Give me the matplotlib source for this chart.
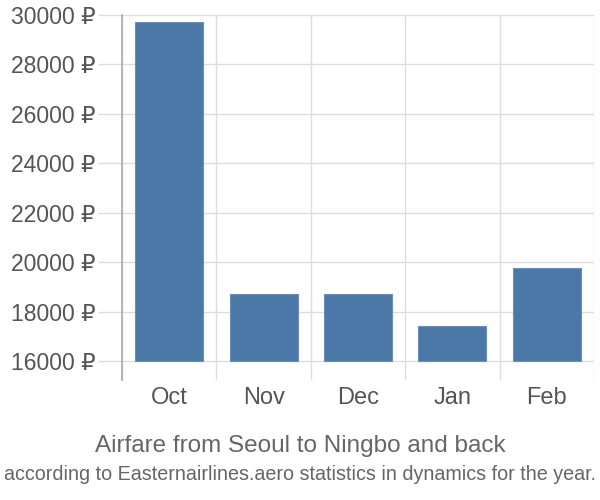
import matplotlib
matplotlib.use('Agg')
import matplotlib.pyplot as plt
import numpy as np

months = ['Oct', 'Nov', 'Dec', 'Jan', 'Feb']
prices = [29700, 18700, 18700, 17400, 19760]
yticks = list(range(16000, 30001, 2000))

plt.rcParams['font.family'] = ['Liberation Sans', 'DejaVu Sans']

fig = plt.figure(figsize=(6, 5), dpi=100)
ax = fig.add_axes([122/600, 1 - 380/500, (594 - 122)/600, (380 - 15)/500])

x = np.arange(len(months))
base = 16000
ax.bar(x, np.array(prices) - base, bottom=base, width=0.72, color='#4c78a8',
       edgecolor='#6a8fbb', linewidth=0.8, zorder=3)

ax.set_xlim(-0.5, len(months) - 0.5)
ax.set_ylim(15230, 30000)

ax.set_yticks(yticks)
ax.set_yticklabels([f'{v} ₽' for v in yticks], fontsize=16.5, color='#555555')
ax.tick_params(axis='y', length=17, color='#dddddd', width=1, pad=2)

ax.set_xticks(x)
ax.set_xticklabels(months, fontsize=17, color='#555555')
ax.tick_params(axis='x', length=0, pad=5)
ax.set_xticks(np.arange(-0.5, len(months), 1), minor=True)
ax.tick_params(axis='x', which='minor', length=0)

ax.grid(axis='y', color='#dddddd', linewidth=1, zorder=0)
ax.grid(axis='x', which='minor', color='#dddddd', linewidth=1, zorder=0)

for s in ['top', 'right', 'bottom']:
    ax.spines[s].set_visible(False)
ax.spines['left'].set_color('#aaaaaa')
ax.spines['left'].set_linewidth(1.2)

fig.text(0.5, 1 - 446/500, 'Airfare from Seoul to Ningbo and back', ha='center', va='center',
         fontsize=17.5, color='#666666')
fig.text(0.5, 1 - 475/500, 'according to Easternairlines.aero statistics in dynamics for the year.',
         ha='center', va='center', fontsize=14.2, color='#666666')

fig.savefig('out.png', dpi=100)
